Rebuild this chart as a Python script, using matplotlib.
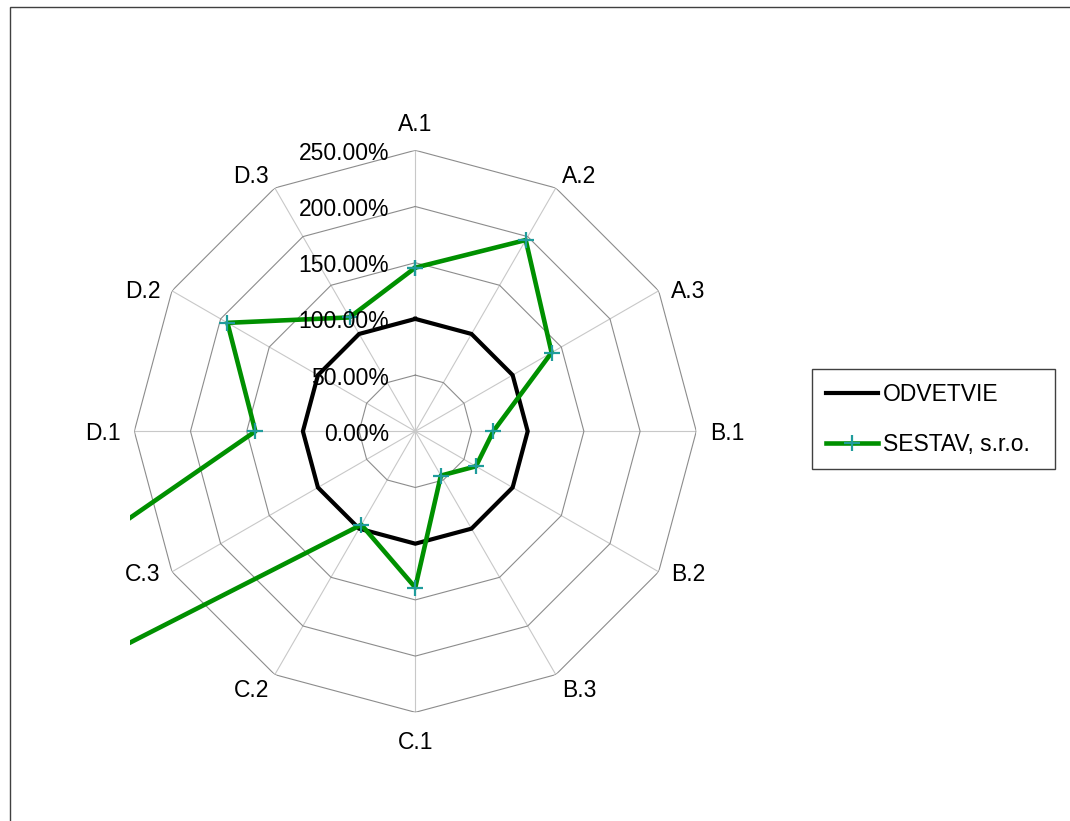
import numpy as np
import matplotlib
matplotlib.use("Agg")
import matplotlib.pyplot as plt
from matplotlib.patches import Rectangle
from matplotlib.transforms import Bbox, TransformedBbox

plt.rcParams['font.family'] = ['Liberation Sans', 'DejaVu Sans']

categories = ['A.1', 'A.2', 'A.3', 'B.1', 'B.2', 'B.3',
              'C.1', 'C.2', 'C.3', 'D.1', 'D.2', 'D.3']
odvetvie = [100.0, 100.0, 100.0, 100.0, 100.0, 100.0,
            100.0, 100.0, 100.0, 100.0, 100.0, 100.0]
sestav = [145.6, 196.5, 140.0, 69.4, 62.3, 45.5,
          139.0, 96.0, 1000.0, 142.3, 193.0, 117.0]
rings = [0, 50, 100, 150, 200, 250]

W, H = 1070, 821
FS = 16.5
fig = plt.figure(figsize=(W / 100, H / 100), dpi=100)

# chart area frame (right and bottom edges fall outside the image)
fig.add_artist(Rectangle((10 / W, -0.1), 1.2, 1.1 - 7 / H, transform=fig.transFigure,
                         fill=False, edgecolor='#404040', linewidth=1.0))

cx, cy, rad = 415.3, 431.3, 281.0
ax = fig.add_axes([(cx - rad) / W, (H - cy - rad) / H, 2 * rad / W, 2 * rad / H],
                  projection='polar')
ax.set_theta_zero_location('N')
ax.set_theta_direction(-1)
ax.set_ylim(0, rings[-1])
ax.grid(False)
ax.set_xticks([])
ax.set_yticks([])
ax.spines['polar'].set_visible(False)
ax.patch.set_alpha(0)

n = len(categories)
theta = np.linspace(0, 2 * np.pi, n, endpoint=False)
theta_c = np.append(theta, theta[0])

# spokes and polygon rings
for t in theta:
    ax.plot([t, t], [0, rings[-1]], color='#c8c8c8', lw=0.8, zorder=1)
for r in rings[1:]:
    ax.plot(theta_c, [r] * (n + 1), color='#8c8c8c', lw=0.8, zorder=1)

ax.plot(theta_c, odvetvie + odvetvie[:1], color='black', lw=3.0,
        solid_joinstyle='miter', zorder=3, label='ODVETVIE')
green, = ax.plot(theta_c, sestav + sestav[:1], color='#009000', lw=3.3,
                 marker='+', markersize=12, markeredgewidth=1.6,
                 markeredgecolor='#1f9c9c', zorder=4, label='SESTAV, s.r.o.')
# the off-scale point runs out to the left edge of the plot area
green.set_clip_path(None)
green.set_clip_box(TransformedBbox(Bbox.from_extents(130 / W, 0, 1, 1), fig.transFigure))

# radial value labels along the A.1 axis
for r in rings:
    ax.annotate(f"{r:.2f}%", xy=(0, r), xytext=(-26, -3), textcoords='offset pixels',
                ha='right', va='center', fontsize=FS, zorder=6, annotation_clip=False)

# category labels around the outer ring
for t, lab in zip(theta, categories):
    s, c = np.sin(t), np.cos(t)
    dx = 31 * np.sign(s) * abs(s) ** 0.4
    dy = -2 + 28 * np.sign(c) * abs(c) ** 5
    ax.annotate(lab, xy=(t, rings[-1]), xytext=(dx, dy), textcoords='offset pixels',
                ha='center', va='center', fontsize=FS, annotation_clip=False)

leg = fig.legend(loc='upper left', bbox_to_anchor=(812 / W, 1 - 370 / H, 243 / W, 0.001),
                 mode='expand', fontsize=FS, frameon=True, fancybox=False,
                 edgecolor='#404040', framealpha=1, borderpad=0.59, labelspacing=1.18,
                 handlelength=2.3, handletextpad=0.2, borderaxespad=0, numpoints=1)
leg.get_frame().set_linewidth(1.0)

fig.savefig('out.png', dpi=100)
